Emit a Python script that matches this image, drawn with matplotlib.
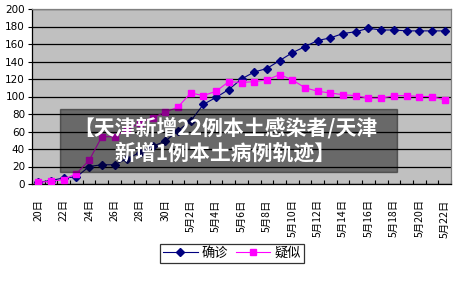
import matplotlib
matplotlib.use("Agg")
import matplotlib.pyplot as plt
from matplotlib.patches import Rectangle

plt.rcParams['font.family'] = ['Noto Sans CJK SC', 'DejaVu Sans']

# 4月20日 .. 5月22日
dates = [f"{d}日" for d in range(20, 31)] + [f"5月{d}日" for d in range(1, 23)]
confirmed = [2, 4, 7, 8, 20, 22, 22, 29, 36, 43, 49, 61, 72, 91, 99, 108,
             120, 128, 132, 141, 150, 157, 164, 167, 172, 174,
             178, 176, 176, 175, 175, 175, 175]
suspected = [2, 3, 5, 12, 27, 54, 54, 62, 70, 76, 82, 88, 104, 101, 106, 117,
             116, 117, 119, 125, 119, 110, 106, 104, 102, 101,
             98, 98, 101, 101, 100, 100, 96]
yticks = list(range(0, 201, 20))
title_text = "【天津新增22例本土感染者/天津\n新增1例本土病例轨迹】"

W, H = 459, 284
fig = plt.figure(figsize=(W / 100, H / 100), dpi=100)
ax = fig.add_axes([32 / W, 1 - 184 / H, 419 / W, 175 / H])
ax.set_facecolor("#c0c0c0")

x = list(range(len(dates)))
l1, = ax.plot(x, confirmed, color="#000080", lw=0.8, marker="D", ms=3.6,
              label="确诊", zorder=3)
l2, = ax.plot(x, suspected, color="#ff00ff", lw=0.8, marker="s", ms=3.8,
              label="疑似", zorder=3)

ax.set_xlim(-0.5, len(dates) - 0.5)
ax.set_ylim(0, 200)
ax.set_yticks(yticks)
ax.yaxis.grid(True, color="black", lw=0.9)
ax.set_axisbelow(True)
ax.tick_params(axis="y", labelsize=7.5, length=3, width=0.8, pad=2)
for lab in ax.get_yticklabels():
    lab.set_family("DejaVu Sans")

ax.set_xticks(x[::2])
ax.set_xticklabels(dates[::2], rotation=90, fontsize=7.5, va="top")
ax.tick_params(axis="x", length=0, pad=11)
ax.set_xticks([i - 0.5 for i in range(len(dates) + 1)], minor=True)
ax.tick_params(axis="x", which="minor", direction="in", length=3, width=0.8)

ax.spines["left"].set_color("black")
ax.spines["bottom"].set_color("black")
ax.spines["top"].set_color("#808080")
ax.spines["right"].set_color("#808080")
for s in ax.spines.values():
    s.set_linewidth(0.9)

leg = fig.legend(handles=[l1, l2], loc="center", bbox_to_anchor=(232 / W, 1 - 253.5 / H),
                 ncol=2, fontsize=9.5, frameon=True, fancybox=False,
                 edgecolor="black", handlelength=2.6, handletextpad=0.3,
                 columnspacing=0.6, borderpad=0.25, borderaxespad=0)
leg.get_frame().set_linewidth(0.9)

# translucent title banner over the chart
fig.patches.append(Rectangle((60 / W, 1 - 172 / H), 337 / W, 63 / H,
                             transform=fig.transFigure, color="black",
                             alpha=0.45, zorder=5))
fig.text(225 / W, 1 - 140 / H, title_text, ha="center", va="center",
         color="white", fontsize=15, fontweight="bold", linespacing=1.25,
         zorder=6)

fig.savefig("out.png", dpi=100)
